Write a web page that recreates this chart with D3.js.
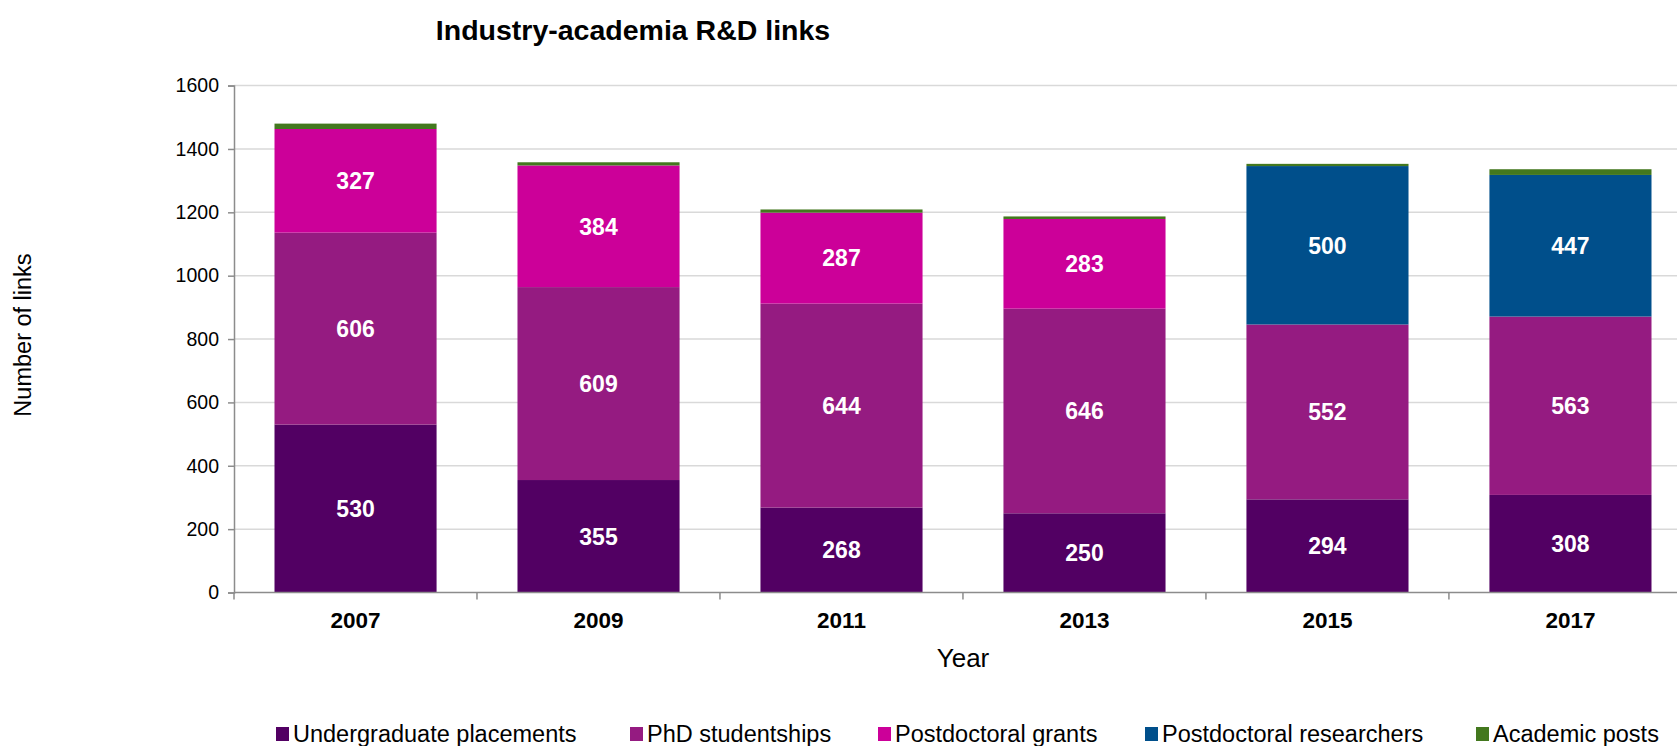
<!DOCTYPE html>
<html>
<head>
<meta charset="utf-8">
<script src="https://cdn.jsdelivr.net/npm/d3@7"></script>
<style>
  html, body { margin: 0; padding: 0; background: #fff; overflow: hidden; }
  text { font-family: "Liberation Sans", Arial, sans-serif; }
</style>
</head>
<body>
<svg id="chart" width="1677" height="746"></svg>
<script>
// Survey years
const years = ["2007", "2009", "2011", "2013", "2015", "2017"];

// Link counts per category and year
const undergraduatePlacements = [530, 355, 268, 250, 294, 308];
const phdStudentships         = [606, 609, 644, 646, 552, 563];
const postdoctoralGrants      = [327, 384, 287, 283, 0, 0];
const postdoctoralResearchers = [0, 0, 0, 0, 500, 447];
const academicPosts           = [17, 10, 10, 8, 7, 18];

const seriesNames = ["Undergraduate placements", "PhD studentships", "Postdoctoral grants", "Postdoctoral researchers", "Academic posts"];
const seriesValues = [undergraduatePlacements, phdStudentships, postdoctoralGrants, postdoctoralResearchers, academicPosts];
const seriesColors = ["#520063", "#951b81", "#cc0099", "#004f8b", "#43781e"];
const labelledSeries = [true, true, true, true, false];

const yTicks = [0, 200, 400, 600, 800, 1000, 1200, 1400, 1600];

const svg = d3.select("#chart");

const plot = { left: 234, right: 1692, top: 85.6, bottom: 592.5 };

const x = d3.scaleBand()
  .domain(years)
  .range([plot.left, plot.right])
  .paddingInner(0.333)
  .paddingOuter(0.1667);

const y = d3.scaleLinear()
  .domain([0, 1600])
  .range([plot.bottom, plot.top]);

// Gridlines
svg.append("g")
  .selectAll("line")
  .data(yTicks.filter(d => d > 0))
  .join("line")
  .attr("x1", plot.left)
  .attr("x2", plot.right)
  .attr("y1", d => y(d))
  .attr("y2", d => y(d))
  .attr("stroke", "#d9d9d9")
  .attr("stroke-width", 1.5);

// Stacked bars
const rows = years.map((yr, i) => {
  const r = { year: yr };
  seriesNames.forEach((s, k) => { r[s] = seriesValues[k][i]; });
  return r;
});
const stacked = d3.stack().keys(seriesNames)(rows);

const layers = svg.append("g")
  .selectAll("g")
  .data(stacked)
  .join("g")
  .attr("fill", (d, k) => seriesColors[k]);

layers.selectAll("rect")
  .data(d => d.filter(p => p[1] - p[0] > 0))
  .join("rect")
  .attr("x", p => x(p.data.year))
  .attr("width", x.bandwidth())
  .attr("y", p => y(p[1]))
  .attr("height", p => y(p[0]) - y(p[1]));

// Value labels inside segments
stacked.forEach((layer, k) => {
  if (!labelledSeries[k]) return;
  svg.append("g")
    .selectAll("text")
    .data(layer.filter(p => p[1] - p[0] > 0))
    .join("text")
    .attr("x", p => x(p.data.year) + x.bandwidth() / 2)
    .attr("y", p => (y(p[0]) + y(p[1])) / 2)
    .attr("dy", "0.36em")
    .attr("text-anchor", "middle")
    .attr("fill", "#fff")
    .attr("font-weight", "bold")
    .attr("font-size", 23)
    .text(p => p[1] - p[0]);
});

// Y axis
const yAxis = svg.append("g")
  .attr("transform", `translate(${plot.left},0)`)
  .call(d3.axisLeft(y).tickValues(yTicks).tickFormat(d3.format("d")).tickSize(6).tickPadding(9));
yAxis.select(".domain").attr("stroke", "#8c8c8c").attr("stroke-width", 1.5);
yAxis.selectAll(".tick line").attr("stroke", "#8c8c8c").attr("stroke-width", 1.5);
yAxis.selectAll(".tick text")
  .attr("font-size", 19.5)
  .attr("fill", "#000")
  .style("font-family", "'Liberation Sans', Arial, sans-serif");

// X axis baseline and category separators
svg.append("line")
  .attr("x1", plot.left).attr("x2", plot.right)
  .attr("y1", y(0)).attr("y2", y(0))
  .attr("stroke", "#8c8c8c").attr("stroke-width", 1.5);

svg.append("g")
  .selectAll("line")
  .data(d3.range(years.length + 1))
  .join("line")
  .attr("x1", i => plot.left + i * x.step())
  .attr("x2", i => plot.left + i * x.step())
  .attr("y1", y(0))
  .attr("y2", y(0) + 7)
  .attr("stroke", "#8c8c8c")
  .attr("stroke-width", 1.5);

svg.append("g")
  .selectAll("text")
  .data(years)
  .join("text")
  .attr("x", d => x(d) + x.bandwidth() / 2)
  .attr("y", 628)
  .attr("text-anchor", "middle")
  .attr("font-weight", "bold")
  .attr("font-size", 22.5)
  .attr("fill", "#000")
  .text(d => d);

// Title and axis titles
svg.append("text")
  .attr("x", 633)
  .attr("y", 40)
  .attr("text-anchor", "middle")
  .attr("font-weight", "bold")
  .attr("font-size", 28.5)
  .attr("fill", "#000")
  .text("Industry-academia R&D links");

svg.append("text")
  .attr("x", 963)
  .attr("y", 667)
  .attr("text-anchor", "middle")
  .attr("font-size", 26)
  .attr("fill", "#000")
  .text("Year");

svg.append("text")
  .attr("transform", "translate(31,335) rotate(-90)")
  .attr("text-anchor", "middle")
  .attr("font-size", 23.5)
  .attr("fill", "#000")
  .text("Number of links");

// Legend
const legendX = [276, 630, 878, 1145, 1476];
const legend = svg.append("g")
  .selectAll("g")
  .data(seriesNames)
  .join("g")
  .attr("transform", (d, k) => `translate(${legendX[k]},734)`);
legend.append("rect")
  .attr("x", 0).attr("y", -7)
  .attr("width", 13).attr("height", 14)
  .attr("fill", (d, k) => seriesColors[k]);
legend.append("text")
  .attr("x", 17)
  .attr("y", 0)
  .attr("dy", "0.35em")
  .attr("font-size", 23.5)
  .attr("fill", "#000")
  .text(d => d);
</script>
</body>
</html>
